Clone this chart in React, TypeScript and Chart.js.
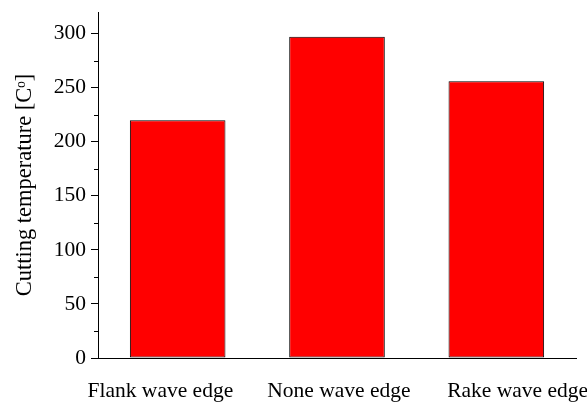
import React, { useEffect, useRef } from "react";
import { Chart, registerables } from "chart.js";

Chart.register(...registerables);

const categories = ["Flank wave edge", "None wave edge", "Rake wave edge"];
const temperatures = [220, 297, 256];
const yMajorTicks = [0, 50, 100, 150, 200, 250, 300];
const yMinorTicks = [25, 75, 125, 175, 225, 275];
const yTitle = "Cutting temperature [C\u1D52]";

const FONT = "'Liberation Serif', 'Times New Roman', serif";

const minorTickPlugin = {
  id: "minorTicks",
  afterDraw(chart: any) {
    const y = chart.scales.y;
    const ctx = chart.ctx;
    ctx.save();
    ctx.strokeStyle = "#000";
    ctx.lineWidth = 1;
    ctx.beginPath();
    for (const v of yMinorTicks) {
      const py = Math.round(y.getPixelForValue(v)) + 0.5;
      ctx.moveTo(y.right - 4, py);
      ctx.lineTo(y.right, py);
    }
    ctx.stroke();
    ctx.restore();
  },
};

function zeroPad(scale: any) {
  scale.paddingLeft = 0;
  scale.paddingRight = 0;
  scale.paddingTop = 0;
  scale.paddingBottom = 0;
}

export default function App() {
  const ref = useRef<HTMLCanvasElement>(null);
  useEffect(() => {
    document.body.style.margin = "0";
    const chart = new Chart(ref.current!, {
      type: "bar",
      data: {
        labels: categories,
        datasets: [
          {
            data: temperatures,
            backgroundColor: "#ff0000",
            borderColor: "#000",
            borderWidth: 1,
            borderSkipped: false,
            barPercentage: 0.6,
            categoryPercentage: 1,
            xAxisID: "x",
          },
        ],
      },
      options: {
        responsive: false,
        animation: false,
        layout: { padding: { left: 0, top: 12, right: 11, bottom: 0 } },
        plugins: { legend: { display: false }, tooltip: { enabled: false } },
        scales: {
          x: {
            type: "category",
            position: "bottom",
            offset: true,
            grid: { display: false, drawTicks: false },
            border: { display: true, color: "#000", width: 1 },
            ticks: { display: false },
            afterFit(scale: any) {
              scale.height = 0;
              zeroPad(scale);
            },
          },
          xl: {
            type: "linear",
            position: "bottom",
            bounds: "data",
            offset: false,
            min: -0.349,
            max: 2.327,
            grid: { display: false, drawTicks: false, offset: false },
            border: { display: false },
            afterBuildTicks(scale: any) {
              scale.ticks = categories.map((_, i) => ({ value: i }));
            },
            ticks: {
              autoSkip: false,
              maxRotation: 0,
              padding: 20,
              color: "#000",
              font: { family: FONT, size: 21.5 },
              callback: (v: any) => categories[Math.round(v as number)] ?? "",
            },
            afterFit(scale: any) {
              scale.height = 45;
              zeroPad(scale);
            },
          },
          y: {
            min: 0,
            max: 320,
            grid: {
              drawOnChartArea: false,
              drawTicks: true,
              tickLength: 7,
              tickColor: "#000",
            },
            border: { display: true, color: "#000", width: 1 },
            ticks: {
              stepSize: 50,
              includeBounds: false,
              padding: 5,
              color: "#000",
              font: { family: FONT, size: 21.5 },
              callback: (v: any) => (yMajorTicks.includes(v) ? String(v) : ""),
            },
            title: {
              display: true,
              text: yTitle,
              color: "#000",
              font: { family: FONT, size: 22.5 },
              padding: { top: 12, bottom: 0 },
            },
            afterFit(scale: any) {
              scale.width = 98;
              zeroPad(scale);
            },
          },
        },
      },
      plugins: [minorTickPlugin],
    });
    return () => chart.destroy();
  }, []);
  return (
    <div style={{ position: "fixed", left: 0, top: 0, width: 587, height: 403, background: "#fff" }}>
      <canvas ref={ref} width={587} height={403} />
    </div>
  );
}
